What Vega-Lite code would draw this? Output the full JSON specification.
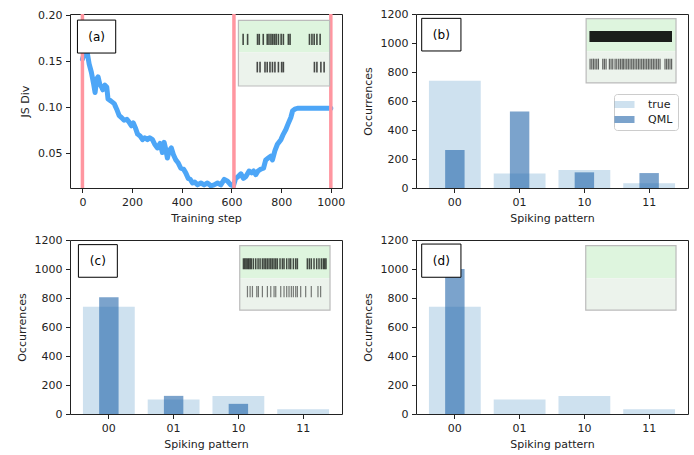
{
  "$schema": "https://vega.github.io/schema/vega-lite/v6.json",
  "padding": {"left": 15, "top": 7, "right": 6, "bottom": 4},
  "config": {
    "font": "DejaVu Sans",
    "view": {"stroke": "#222", "strokeWidth": 1},
    "axis": {"grid": false, "domain": false, "tickColor": "#222", "tickSize": 4.5, "labelFontSize": 11, "titleFontSize": 11, "titleFontWeight": "normal", "labelColor": "#222", "titleColor": "#222", "labelPadding": 3.5, "labelOverlap": false},
    "axisY": {"titlePadding": 7},
    "axisX": {"titlePadding": 5.5, "labelAngle": 0}
  },
  "columns": 2,
  "bounds": "flush",
  "spacing": {"row": 52, "column": 74},
  "resolve": {"scale": {"color": "independent"}},
  "concat": [
    {
      "width": 272, "height": 174,
      "layer": [
        {
          "data": {"values": [
            {"step": 0, "jsdiv": 0.152}, {"step": 7, "jsdiv": 0.158}, {"step": 17, "jsdiv": 0.163}, {"step": 27, "jsdiv": 0.147},
            {"step": 36, "jsdiv": 0.138}, {"step": 44, "jsdiv": 0.127}, {"step": 51, "jsdiv": 0.116}, {"step": 58, "jsdiv": 0.131},
            {"step": 63, "jsdiv": 0.133}, {"step": 70, "jsdiv": 0.125}, {"step": 77, "jsdiv": 0.122}, {"step": 82, "jsdiv": 0.119},
            {"step": 90, "jsdiv": 0.124}, {"step": 98, "jsdiv": 0.122}, {"step": 103, "jsdiv": 0.109}, {"step": 114, "jsdiv": 0.107},
            {"step": 128, "jsdiv": 0.104}, {"step": 138, "jsdiv": 0.098}, {"step": 148, "jsdiv": 0.091}, {"step": 157, "jsdiv": 0.089},
            {"step": 168, "jsdiv": 0.086}, {"step": 179, "jsdiv": 0.087}, {"step": 188, "jsdiv": 0.084}, {"step": 197, "jsdiv": 0.080},
            {"step": 205, "jsdiv": 0.083}, {"step": 213, "jsdiv": 0.078}, {"step": 222, "jsdiv": 0.071}, {"step": 232, "jsdiv": 0.069},
            {"step": 242, "jsdiv": 0.065}, {"step": 251, "jsdiv": 0.067}, {"step": 262, "jsdiv": 0.065}, {"step": 271, "jsdiv": 0.067},
            {"step": 282, "jsdiv": 0.065}, {"step": 291, "jsdiv": 0.060}, {"step": 302, "jsdiv": 0.056}, {"step": 313, "jsdiv": 0.061},
            {"step": 322, "jsdiv": 0.051}, {"step": 329, "jsdiv": 0.062}, {"step": 336, "jsdiv": 0.054}, {"step": 342, "jsdiv": 0.045},
            {"step": 349, "jsdiv": 0.053}, {"step": 358, "jsdiv": 0.056}, {"step": 366, "jsdiv": 0.049}, {"step": 376, "jsdiv": 0.043},
            {"step": 385, "jsdiv": 0.040}, {"step": 396, "jsdiv": 0.034}, {"step": 407, "jsdiv": 0.033}, {"step": 416, "jsdiv": 0.029},
            {"step": 426, "jsdiv": 0.023}, {"step": 434, "jsdiv": 0.022}, {"step": 443, "jsdiv": 0.018}, {"step": 452, "jsdiv": 0.019},
            {"step": 463, "jsdiv": 0.016}, {"step": 477, "jsdiv": 0.018}, {"step": 490, "jsdiv": 0.016}, {"step": 503, "jsdiv": 0.018},
            {"step": 517, "jsdiv": 0.015}, {"step": 530, "jsdiv": 0.016}, {"step": 544, "jsdiv": 0.018}, {"step": 557, "jsdiv": 0.016},
            {"step": 571, "jsdiv": 0.022}, {"step": 584, "jsdiv": 0.020}, {"step": 597, "jsdiv": 0.016}, {"step": 608, "jsdiv": 0.015},
            {"step": 617, "jsdiv": 0.023}, {"step": 627, "jsdiv": 0.025}, {"step": 638, "jsdiv": 0.028}, {"step": 648, "jsdiv": 0.023},
            {"step": 658, "jsdiv": 0.025}, {"step": 671, "jsdiv": 0.031}, {"step": 681, "jsdiv": 0.029}, {"step": 689, "jsdiv": 0.031},
            {"step": 698, "jsdiv": 0.027}, {"step": 707, "jsdiv": 0.031}, {"step": 718, "jsdiv": 0.033}, {"step": 729, "jsdiv": 0.034},
            {"step": 738, "jsdiv": 0.043}, {"step": 748, "jsdiv": 0.045}, {"step": 758, "jsdiv": 0.047}, {"step": 765, "jsdiv": 0.043},
            {"step": 775, "jsdiv": 0.053}, {"step": 785, "jsdiv": 0.060}, {"step": 799, "jsdiv": 0.065}, {"step": 809, "jsdiv": 0.071},
            {"step": 819, "jsdiv": 0.076}, {"step": 828, "jsdiv": 0.082}, {"step": 839, "jsdiv": 0.089}, {"step": 846, "jsdiv": 0.096},
            {"step": 855, "jsdiv": 0.098}, {"step": 866, "jsdiv": 0.099}, {"step": 879, "jsdiv": 0.099}, {"step": 1000, "jsdiv": 0.099}
          ]},
          "mark": {"type": "line", "color": "#4DA6F7", "strokeWidth": 5, "strokeJoin": "round", "strokeCap": "round", "clip": true},
          "encoding": {
            "x": {"field": "step", "type": "quantitative", "scale": {"domain": [-50, 1045], "nice": false, "zero": false}, "axis": {"values": [0, 200, 400, 600, 800, 1000], "format": "d", "title": "Training step"}},
            "y": {"field": "jsdiv", "type": "quantitative", "scale": {"domain": [0.0126, 0.2011], "nice": false, "zero": false}, "axis": {"values": [0.05, 0.1, 0.15, 0.2], "format": ".2f", "title": "JS Div"}}
          }
        },
        {
          "data": {"values": [{"step": 0}, {"step": 610}, {"step": 1000}]},
          "mark": {"type": "rule", "color": "#FF96A0", "strokeWidth": 3.5},
          "encoding": {"x": {"field": "step", "type": "quantitative"}}
        },
        {
          "data": {"values": [{}]},
          "mark": {"type": "rect", "fill": "white", "stroke": "black", "strokeWidth": 1},
          "encoding": {"x": {"datum": -20}, "x2": {"datum": 134}, "y": {"datum": 0.1588}, "y2": {"datum": 0.1945}}
        },
        {
          "data": {"values": [{"label": "(a)"}]},
          "mark": {"type": "text", "fontSize": 12, "color": "black"},
          "encoding": {"x": {"datum": 57}, "y": {"datum": 0.1767}, "text": {"field": "label"}}
        },
        {
          "data": {"values": [{}]},
          "mark": {"type": "rect", "fill": "#DEF5DE"},
          "encoding": {"x": {"datum": 628}, "x2": {"datum": 995}, "y": {"datum": 0.1596}, "y2": {"datum": 0.1941}}
        },
        {
          "data": {"values": [{}]},
          "mark": {"type": "rect", "fill": "#ECF3EC"},
          "encoding": {"x": {"datum": 628}, "x2": {"datum": 995}, "y": {"datum": 0.1231}, "y2": {"datum": 0.1596}}
        },
        {
          "data": {"values": [{}]},
          "mark": {"type": "rect", "fillOpacity": 0, "stroke": "#BBBBBB", "strokeWidth": 1.2},
          "encoding": {"x": {"datum": 628}, "x2": {"datum": 995}, "y": {"datum": 0.1231}, "y2": {"datum": 0.1941}}
        },
        {
          "data": {"values": [
            {"t": 647}, {"t": 665}, {"t": 705}, {"t": 712}, {"t": 728}, {"t": 744}, {"t": 751}, {"t": 759}, {"t": 766}, {"t": 773},
            {"t": 780}, {"t": 789}, {"t": 800}, {"t": 809}, {"t": 829}, {"t": 836}, {"t": 914}, {"t": 924}, {"t": 933}, {"t": 944}, {"t": 957}
          ]},
          "mark": {"type": "rule", "color": "black", "strokeWidth": 1.6, "opacity": 0.7},
          "encoding": {"x": {"field": "t", "type": "quantitative"}, "y": {"datum": 0.1676}, "y2": {"datum": 0.1796}}
        },
        {
          "data": {"values": [
            {"t": 704}, {"t": 715}, {"t": 735}, {"t": 744}, {"t": 755}, {"t": 765}, {"t": 775}, {"t": 789}, {"t": 802}, {"t": 809},
            {"t": 934}, {"t": 944}, {"t": 960}, {"t": 973}
          ]},
          "mark": {"type": "rule", "color": "black", "strokeWidth": 1.6, "opacity": 0.7},
          "encoding": {"x": {"field": "t", "type": "quantitative"}, "y": {"datum": 0.1378}, "y2": {"datum": 0.1493}}
        }
      ]
    },
    {
      "width": 272, "height": 174,
      "resolve": {"scale": {"x": "independent"}, "axis": {"x": "independent"}},
      "layer": [
        {
          "data": {"values": [
            {"pattern": "00", "series": "true", "count": 740}, {"pattern": "01", "series": "true", "count": 100},
            {"pattern": "10", "series": "true", "count": 124}, {"pattern": "11", "series": "true", "count": 32},
            {"pattern": "00", "series": "QML", "count": 262}, {"pattern": "01", "series": "QML", "count": 528},
            {"pattern": "10", "series": "QML", "count": 108}, {"pattern": "11", "series": "QML", "count": 103}
          ]},
          "layer": [
            {
              "transform": [{"filter": "datum.series === 'true'"}],
              "mark": {"type": "bar"},
              "encoding": {
                "x": {"field": "pattern", "type": "nominal", "scale": {"paddingInner": 0.2, "paddingOuter": 0.2}, "axis": {"title": "Spiking pattern"}},
                "y": {"field": "count", "type": "quantitative", "scale": {"domain": [0, 1200], "nice": false}, "axis": {"values": [0, 200, 400, 600, 800, 1000, 1200], "tickCount": 7, "format": "d", "title": "Occurrences"}},
                "color": {"field": "series", "type": "nominal", "scale": {"domain": ["true", "QML"], "range": ["rgba(31,119,180,0.22)", "rgba(35,102,170,0.6)"]},
                  "legend": {"orient": "none", "legendX": 198, "legendY": 80, "title": null, "symbolType": "M-2,-0.7H2V0.7H-2Z", "symbolSize": 100, "symbolStrokeWidth": 0, "labelFontSize": 11, "labelColor": "#222", "strokeColor": "#CCCCCC", "fillColor": "white", "padding": 5, "cornerRadius": 3, "rowPadding": 3, "labelOffset": 18}}
              }
            },
            {
              "transform": [{"filter": "datum.series === 'QML'"}],
              "mark": {"type": "bar", "width": {"band": 0.375}},
              "encoding": {
                "x": {"field": "pattern", "type": "nominal"},
                "y": {"field": "count", "type": "quantitative"},
                "color": {"field": "series", "type": "nominal"}
              }
            }
          ]
        },
        {
          "layer": [
            {
              "data": {"values": [{}]},
              "mark": {"type": "rect", "fill": "white", "stroke": "black", "strokeWidth": 1},
              "encoding": {"x": {"datum": -0.512, "scale": {"domain": [-0.6, 3.6], "nice": false, "zero": false}, "axis": null}, "x2": {"datum": 0.094}, "y": {"datum": 945, "axis": {"values": [0, 200, 400, 600, 800, 1000, 1200], "tickCount": 7, "format": "d", "title": "Occurrences"}}, "y2": {"datum": 1170}}
            },
            {
              "data": {"values": [{"label": "(b)"}]},
              "mark": {"type": "text", "fontSize": 12, "color": "black"},
              "encoding": {"x": {"datum": -0.209}, "y": {"datum": 1057}, "text": {"field": "label"}}
            },
            {
              "data": {"values": [{}]},
              "mark": {"type": "rect", "fill": "#DEF5DE"},
              "encoding": {"x": {"datum": 2.027}, "x2": {"datum": 3.415}, "y": {"datum": 943}, "y2": {"datum": 1168}}
            },
            {
              "data": {"values": [{}]},
              "mark": {"type": "rect", "fill": "#ECF3EC"},
              "encoding": {"x": {"datum": 2.027}, "x2": {"datum": 3.415}, "y": {"datum": 725}, "y2": {"datum": 943}}
            },
            {
              "data": {"values": [{}]},
              "mark": {"type": "rect", "fillOpacity": 0, "stroke": "#BBBBBB", "strokeWidth": 1.2},
              "encoding": {"x": {"datum": 2.027}, "x2": {"datum": 3.415}, "y": {"datum": 725}, "y2": {"datum": 1168}}
            },
            {
              "data": {"values": [{}]},
              "mark": {"type": "rect", "fill": "#000000", "opacity": 0.88},
              "encoding": {"x": {"datum": 2.078}, "x2": {"datum": 3.353}, "y": {"datum": 1007}, "y2": {"datum": 1083}}
            },
            {
              "data": {"values": [
                {"t": 2.088}, {"t": 2.114}, {"t": 2.140}, {"t": 2.165}, {"t": 2.191}, {"t": 2.217}, {"t": 2.284}, {"t": 2.309}, {"t": 2.335},
                {"t": 2.386}, {"t": 2.412}, {"t": 2.438}, {"t": 2.474}, {"t": 2.500}, {"t": 2.530}, {"t": 2.556}, {"t": 2.582}, {"t": 2.602},
                {"t": 2.628}, {"t": 2.654}, {"t": 2.679}, {"t": 2.705}, {"t": 2.731}, {"t": 2.756}, {"t": 2.782}, {"t": 2.808}, {"t": 2.834},
                {"t": 2.859}, {"t": 2.885}, {"t": 2.911}, {"t": 2.936}, {"t": 2.962}, {"t": 2.988}, {"t": 3.013}, {"t": 3.039}, {"t": 3.065},
                {"t": 3.090}, {"t": 3.116}, {"t": 3.142}, {"t": 3.168}, {"t": 3.245}, {"t": 3.270}, {"t": 3.296}, {"t": 3.322}, {"t": 3.347}
              ]},
              "mark": {"type": "rule", "color": "black", "strokeWidth": 1.2, "opacity": 0.6},
              "encoding": {"x": {"field": "t", "type": "quantitative"}, "y": {"datum": 817}, "y2": {"datum": 892}}
            }
          ]
        }
      ]
    },
    {
      "width": 272, "height": 174,
      "resolve": {"scale": {"x": "independent"}, "axis": {"x": "independent"}},
      "layer": [
        {
          "data": {"values": [
            {"pattern": "00", "series": "true", "count": 740}, {"pattern": "01", "series": "true", "count": 100},
            {"pattern": "10", "series": "true", "count": 124}, {"pattern": "11", "series": "true", "count": 32},
            {"pattern": "00", "series": "QML", "count": 805}, {"pattern": "01", "series": "QML", "count": 125},
            {"pattern": "10", "series": "QML", "count": 70}, {"pattern": "11", "series": "QML", "count": 0}
          ]},
          "layer": [
            {
              "transform": [{"filter": "datum.series === 'true'"}],
              "mark": {"type": "bar", "color": "rgba(31,119,180,0.22)"},
              "encoding": {
                "x": {"field": "pattern", "type": "nominal", "scale": {"paddingInner": 0.2, "paddingOuter": 0.2}, "axis": {"title": "Spiking pattern"}},
                "y": {"field": "count", "type": "quantitative", "scale": {"domain": [0, 1200], "nice": false}, "axis": {"values": [0, 200, 400, 600, 800, 1000, 1200], "tickCount": 7, "format": "d", "title": "Occurrences"}}
              }
            },
            {
              "transform": [{"filter": "datum.series === 'QML'"}],
              "mark": {"type": "bar", "width": {"band": 0.375}, "color": "rgba(35,102,170,0.6)"},
              "encoding": {
                "x": {"field": "pattern", "type": "nominal"},
                "y": {"field": "count", "type": "quantitative"}
              }
            }
          ]
        },
        {
          "layer": [
            {
              "data": {"values": [{}]},
              "mark": {"type": "rect", "fill": "white", "stroke": "black", "strokeWidth": 1},
              "encoding": {"x": {"datum": -0.47, "scale": {"domain": [-0.6, 3.6], "nice": false, "zero": false}, "axis": null}, "x2": {"datum": 0.131}, "y": {"datum": 943, "axis": {"values": [0, 200, 400, 600, 800, 1000, 1200], "tickCount": 7, "format": "d", "title": "Occurrences"}}, "y2": {"datum": 1168}}
            },
            {
              "data": {"values": [{"label": "(c)"}]},
              "mark": {"type": "text", "fontSize": 12, "color": "black"},
              "encoding": {"x": {"datum": -0.17}, "y": {"datum": 1055}, "text": {"field": "label"}}
            },
            {
              "data": {"values": [{}]},
              "mark": {"type": "rect", "fill": "#DEF5DE"},
              "encoding": {"x": {"datum": 2.021}, "x2": {"datum": 3.415}, "y": {"datum": 936}, "y2": {"datum": 1161}}
            },
            {
              "data": {"values": [{}]},
              "mark": {"type": "rect", "fill": "#ECF3EC"},
              "encoding": {"x": {"datum": 2.021}, "x2": {"datum": 3.415}, "y": {"datum": 717}, "y2": {"datum": 936}}
            },
            {
              "data": {"values": [{}]},
              "mark": {"type": "rect", "fillOpacity": 0, "stroke": "#BBBBBB", "strokeWidth": 1.2},
              "encoding": {"x": {"datum": 2.021}, "x2": {"datum": 3.415}, "y": {"datum": 717}, "y2": {"datum": 1161}}
            },
            {
              "data": {"values": [
                {"t": 2.078}, {"t": 2.099}, {"t": 2.119}, {"t": 2.140}, {"t": 2.160}, {"t": 2.181}, {"t": 2.201}, {"t": 2.232}, {"t": 2.268},
                {"t": 2.304}, {"t": 2.335}, {"t": 2.371}, {"t": 2.397}, {"t": 2.422}, {"t": 2.448}, {"t": 2.474}, {"t": 2.500}, {"t": 2.525},
                {"t": 2.551}, {"t": 2.577}, {"t": 2.602}, {"t": 2.643}, {"t": 2.679}, {"t": 2.705}, {"t": 2.746}, {"t": 2.782}, {"t": 2.808},
                {"t": 2.849}, {"t": 2.885}, {"t": 2.911}, {"t": 3.065}, {"t": 3.096}, {"t": 3.126}, {"t": 3.168}, {"t": 3.209}, {"t": 3.245},
                {"t": 3.281}, {"t": 3.311}, {"t": 3.332}, {"t": 3.353}
              ]},
              "mark": {"type": "rule", "color": "black", "strokeWidth": 1.5, "opacity": 0.7},
              "encoding": {"x": {"field": "t", "type": "quantitative"}, "y": {"datum": 998}, "y2": {"datum": 1074}}
            },
            {
              "data": {"values": [
                {"t": 2.140}, {"t": 2.181}, {"t": 2.217}, {"t": 2.284}, {"t": 2.309}, {"t": 2.371}, {"t": 2.448}, {"t": 2.500}, {"t": 2.551},
                {"t": 2.577}, {"t": 2.654}, {"t": 2.705}, {"t": 2.746}, {"t": 2.782}, {"t": 2.818}, {"t": 2.849}, {"t": 2.885}, {"t": 2.911},
                {"t": 2.962}, {"t": 3.039}, {"t": 3.126}, {"t": 3.229}, {"t": 3.270}
              ]},
              "mark": {"type": "rule", "color": "black", "strokeWidth": 1.2, "opacity": 0.5},
              "encoding": {"x": {"field": "t", "type": "quantitative"}, "y": {"datum": 805}, "y2": {"datum": 883}}
            }
          ]
        }
      ]
    },
    {
      "width": 272, "height": 174,
      "resolve": {"scale": {"x": "independent"}, "axis": {"x": "independent"}},
      "layer": [
        {
          "data": {"values": [
            {"pattern": "00", "series": "true", "count": 740}, {"pattern": "01", "series": "true", "count": 100},
            {"pattern": "10", "series": "true", "count": 124}, {"pattern": "11", "series": "true", "count": 32},
            {"pattern": "00", "series": "QML", "count": 1000}, {"pattern": "01", "series": "QML", "count": 0},
            {"pattern": "10", "series": "QML", "count": 0}, {"pattern": "11", "series": "QML", "count": 0}
          ]},
          "layer": [
            {
              "transform": [{"filter": "datum.series === 'true'"}],
              "mark": {"type": "bar", "color": "rgba(31,119,180,0.22)"},
              "encoding": {
                "x": {"field": "pattern", "type": "nominal", "scale": {"paddingInner": 0.2, "paddingOuter": 0.2}, "axis": {"title": "Spiking pattern"}},
                "y": {"field": "count", "type": "quantitative", "scale": {"domain": [0, 1200], "nice": false}, "axis": {"values": [0, 200, 400, 600, 800, 1000, 1200], "tickCount": 7, "format": "d", "title": "Occurrences"}}
              }
            },
            {
              "transform": [{"filter": "datum.series === 'QML'"}],
              "mark": {"type": "bar", "width": {"band": 0.375}, "color": "rgba(35,102,170,0.6)"},
              "encoding": {
                "x": {"field": "pattern", "type": "nominal"},
                "y": {"field": "count", "type": "quantitative"}
              }
            }
          ]
        },
        {
          "layer": [
            {
              "data": {"values": [{}]},
              "mark": {"type": "rect", "fill": "white", "stroke": "black", "strokeWidth": 1},
              "encoding": {"x": {"datum": -0.512, "scale": {"domain": [-0.6, 3.6], "nice": false, "zero": false}, "axis": null}, "x2": {"datum": 0.094}, "y": {"datum": 943, "axis": {"values": [0, 200, 400, 600, 800, 1000, 1200], "tickCount": 7, "format": "d", "title": "Occurrences"}}, "y2": {"datum": 1172}}
            },
            {
              "data": {"values": [{"label": "(d)"}]},
              "mark": {"type": "text", "fontSize": 12, "color": "black"},
              "encoding": {"x": {"datum": -0.209}, "y": {"datum": 1057}, "text": {"field": "label"}}
            },
            {
              "data": {"values": [{}]},
              "mark": {"type": "rect", "fill": "#DEF5DE"},
              "encoding": {"x": {"datum": 2.021}, "x2": {"datum": 3.415}, "y": {"datum": 936}, "y2": {"datum": 1161}}
            },
            {
              "data": {"values": [{}]},
              "mark": {"type": "rect", "fill": "#ECF3EC"},
              "encoding": {"x": {"datum": 2.021}, "x2": {"datum": 3.415}, "y": {"datum": 717}, "y2": {"datum": 936}}
            },
            {
              "data": {"values": [{}]},
              "mark": {"type": "rect", "fillOpacity": 0, "stroke": "#BBBBBB", "strokeWidth": 1.2},
              "encoding": {"x": {"datum": 2.021}, "x2": {"datum": 3.415}, "y": {"datum": 717}, "y2": {"datum": 1161}}
            }
          ]
        }
      ]
    }
  ]
}
